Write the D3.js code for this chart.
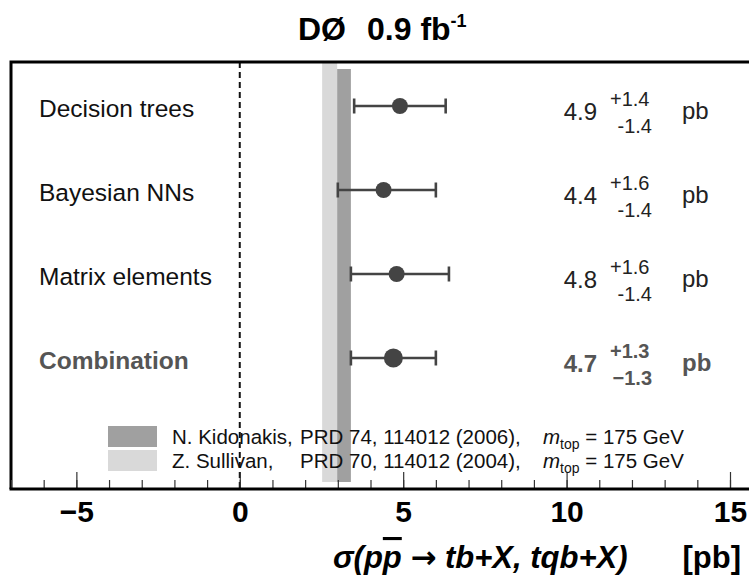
<!DOCTYPE html>
<html>
<head>
<meta charset="utf-8">
<script src="https://cdn.jsdelivr.net/npm/d3@7"></script>
<style>
  body { margin: 0; background: #fff; }
  text { font-family: "Liberation Sans", Arial, Helvetica, sans-serif; }
</style>
</head>
<body>
<div id="chart"></div>
<script>
// measurements
const methods = ['Decision trees', 'Bayesian NNs', 'Matrix elements', 'Combination']
const central = [4.9, 4.4, 4.8, 4.7]
const errUp = [1.4, 1.6, 1.6, 1.3]
const errDown = [1.4, 1.4, 1.4, 1.3]

// theory predictions (bands)
const theoryNames = ['Z. Sullivan,', 'N. Kidonakis,']
const theoryRefs = ['PRD 70, 114012 (2004),', 'PRD 74, 114012 (2006),']
const theoryLo = [2.52, 2.98]
const theoryHi = [2.98, 3.40]

const majorTicks = [-5, 0, 5, 10, 15]

const width = 749
const height = 578
const frameLeft = 11
const frameTop = 62
const axisY = 489

const svg = d3.select('#chart')
  .append('svg')
  .attr('width', width)
  .attr('height', height)

const x = d3.scaleLinear().domain([-7, 15]).range([frameLeft, 730])
const y = d3.scalePoint().domain(methods).range([106, 358])

// bands: light first, dark on top
const bandColors = ['#d9d9d9', '#a0a0a0']
const bandTop = [frameTop + 1, frameTop + 7]
svg.append('g').selectAll('rect')
  .data(theoryLo)
  .enter()
  .append('rect')
  .attr('x', (d, i) => x(d))
  .attr('y', (d, i) => bandTop[i])
  .attr('width', (d, i) => x(theoryHi[i]) - x(d))
  .attr('height', (d, i) => axisY - 7 - bandTop[i])
  .style('fill', (d, i) => bandColors[i])

// dashed zero line
svg.append('line')
  .attr('x1', x(0)).attr('x2', x(0))
  .attr('y1', frameTop).attr('y2', axisY)
  .attr('stroke', '#111')
  .attr('stroke-width', 2)
  .attr('stroke-dasharray', '6,4')

// frame
svg.append('path')
  .attr('d', `M${frameLeft},${axisY}V${frameTop}H${width + 5}`)
  .attr('fill', 'none')
  .attr('stroke', '#000')
  .attr('stroke-width', 3)

// axis ticks
const minorAxis = d3.axisBottom(x)
  .tickValues(d3.range(-7, 16, 1))
  .tickSize(-9)
  .tickFormat('')
const gMinor = svg.append('g').attr('transform', `translate(0,${axisY})`).call(minorAxis)
gMinor.select('.domain').remove()
gMinor.selectAll('line').attr('stroke', '#333').attr('stroke-width', 1.2)

const majorAxis = d3.axisBottom(x)
  .tickValues(majorTicks)
  .tickSize(-17)
  .tickPadding(12)
  .tickFormat(d => d < 0 ? '\u2212' + Math.abs(d) : d)
const gMajor = svg.append('g').attr('transform', `translate(0,${axisY})`).call(majorAxis)
gMajor.select('.domain').remove()
gMajor.selectAll('line').attr('stroke', '#333').attr('stroke-width', 1.2)
gMajor.selectAll('text')
  .attr('fill', '#000')
  .style('font-size', '30px')
  .style('font-weight', 'bold')
  .style('font-family', '"Liberation Sans", Arial, sans-serif')

svg.append('line')
  .attr('x1', frameLeft - 1.5).attr('x2', width)
  .attr('y1', axisY).attr('y2', axisY)
  .attr('stroke', '#000')
  .attr('stroke-width', 3)

// error bars and points
const rows = svg.append('g').selectAll('g')
  .data(methods)
  .enter()
  .append('g')
  .attr('transform', d => `translate(0, ${y(d)})`)

rows.append('line')
  .attr('x1', (d, i) => x(central[i] - errDown[i]))
  .attr('x2', (d, i) => x(central[i] + errUp[i]))
  .attr('stroke', '#444')
  .attr('stroke-width', 2.6)

rows.append('line')
  .attr('x1', (d, i) => x(central[i] - errDown[i]))
  .attr('x2', (d, i) => x(central[i] - errDown[i]))
  .attr('y1', -7.5).attr('y2', 7.5)
  .attr('stroke', '#444')
  .attr('stroke-width', 2.6)

rows.append('line')
  .attr('x1', (d, i) => x(central[i] + errUp[i]))
  .attr('x2', (d, i) => x(central[i] + errUp[i]))
  .attr('y1', -7.5).attr('y2', 7.5)
  .attr('stroke', '#444')
  .attr('stroke-width', 2.6)

rows.append('circle')
  .attr('cx', (d, i) => x(central[i]))
  .attr('r', (d, i) => i === 3 ? 9.5 : 8)
  .style('fill', '#444')

// labels
const isComb = i => i === 3
rows.append('text')
  .text(d => d)
  .attr('x', 39)
  .attr('y', 11)
  .attr('fill', (d, i) => isComb(i) ? '#555' : '#111')
  .style('font-size', '24.5px')
  .style('font-weight', (d, i) => isComb(i) ? 'bold' : 'normal')

rows.append('text')
  .text((d, i) => central[i].toFixed(1))
  .attr('x', 597)
  .attr('y', 14)
  .attr('text-anchor', 'end')
  .attr('fill', (d, i) => isComb(i) ? '#555' : '#222')
  .style('font-size', '24px')
  .style('font-weight', (d, i) => isComb(i) ? 'bold' : 'normal')

rows.append('text')
  .text((d, i) => '+' + errUp[i].toFixed(1))
  .attr('x', 610)
  .attr('y', 0)
  .attr('fill', (d, i) => isComb(i) ? '#555' : '#222')
  .style('font-size', '20px')
  .style('font-weight', (d, i) => isComb(i) ? 'bold' : 'normal')

rows.append('text')
  .text((d, i) => (isComb(i) ? '\u2212' : '-') + errDown[i].toFixed(1))
  .attr('x', 652)
  .attr('y', 27)
  .attr('text-anchor', 'end')
  .attr('fill', (d, i) => isComb(i) ? '#555' : '#222')
  .style('font-size', '20px')
  .style('font-weight', (d, i) => isComb(i) ? 'bold' : 'normal')

rows.append('text')
  .text('pb')
  .attr('x', 682)
  .attr('y', 13)
  .attr('fill', (d, i) => isComb(i) ? '#555' : '#222')
  .style('font-size', '24px')
  .style('font-weight', (d, i) => isComb(i) ? 'bold' : 'normal')

// legend (Kidonakis on top)
const legendOrder = [1, 0]
const legend = svg.append('g').selectAll('g')
  .data(legendOrder)
  .enter()
  .append('g')
  .attr('transform', (d, i) => `translate(0, ${426 + i * 24})`)

legend.append('rect')
  .attr('x', 108)
  .attr('y', 0)
  .attr('width', 49)
  .attr('height', 21)
  .style('fill', d => bandColors[d])

legend.append('text')
  .text(d => theoryNames[d])
  .attr('x', 172).attr('y', 18)
  .attr('fill', '#111')
  .style('font-size', '20.5px')

legend.append('text')
  .text(d => theoryRefs[d])
  .attr('x', 300).attr('y', 18)
  .attr('fill', '#111')
  .style('font-size', '20.5px')

const mt = legend.append('text')
  .attr('x', 543).attr('y', 18)
  .attr('fill', '#111')
  .style('font-size', '20.5px')
mt.append('tspan').text('m').style('font-style', 'italic')
mt.append('tspan').text('top').attr('dy', 5).style('font-size', '14px')
mt.append('tspan').text(' = 175 GeV').attr('dy', -5)

// title
const title = svg.append('text')
  .attr('x', 298)
  .attr('y', 40)
  .attr('fill', '#000')
  .style('font-size', '32px')
  .style('font-weight', 'bold')
title.append('tspan').text('D\u00d8')
title.append('tspan').text('0.9 fb').attr('x', 367)
title.append('tspan').text('-1').attr('dy', -13).style('font-size', '18px')

// x axis title
const xt = svg.append('text')
  .attr('x', 333)
  .attr('y', 568)
  .attr('fill', '#000')
  .style('font-size', '31px')
  .style('font-weight', 'bold')
const it = xt.append('tspan').style('font-style', 'italic')
it.append('tspan').text('\u03c3(p')
it.append('tspan').text('p').style('text-decoration', 'overline')
it.append('tspan').text(' ')
it.append('tspan').text('\u2192').style('font-family', '"DejaVu Sans", sans-serif').style('font-style', 'normal')
it.append('tspan').text(' tb+X, tqb+X)')
svg.append('text')
  .text('[pb]')
  .attr('x', 741)
  .attr('y', 568)
  .attr('text-anchor', 'end')
  .attr('fill', '#000')
  .style('font-size', '31px')
  .style('font-weight', 'bold')
</script>
</body>
</html>
